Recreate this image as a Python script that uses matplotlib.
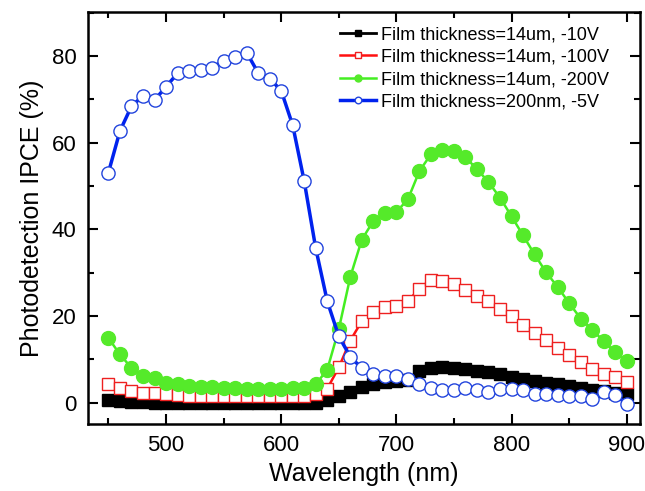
import matplotlib
matplotlib.use('Agg')
import matplotlib.pyplot as plt
from matplotlib.ticker import MultipleLocator

plt.rcParams['font.family'] = ['Liberation Sans', 'DejaVu Sans']

# wavelength (nm)
wavelength = [450, 460, 470, 480, 490, 500, 510, 520, 530, 540,
              550, 560, 570, 580, 590, 600, 610, 620, 630, 640,
              650, 660, 670, 680, 690, 700, 710, 720, 730, 740,
              750, 760, 770, 780, 790, 800, 810, 820, 830, 840,
              850, 860, 870, 880, 890, 900]

# IPCE (%)
ipce_14um_10V = [0.5, 0.3, 0.2, 0.1, 0.0, -0.1, -0.1, -0.2, -0.2, -0.2,
                 -0.2, -0.2, -0.2, -0.2, -0.2, -0.2, -0.2, -0.2, -0.1, 0.5,
                 1.5, 2.5, 3.5, 4.3, 4.7, 5.0, 5.2, 7.3, 7.9, 8.1,
                 8.0, 7.8, 7.4, 7.0, 6.5, 6.0, 5.5, 5.0, 4.6, 4.2,
                 3.8, 3.4, 3.0, 2.6, 2.3, 2.0]
ipce_14um_100V = [4.2, 3.4, 2.7, 2.3, 2.2, 1.9, 1.7, 1.6, 1.6, 1.5,
                  1.5, 1.5, 1.5, 1.5, 1.5, 1.5, 1.5, 1.6, 2.0, 3.2,
                  8.1, 14.3, 18.8, 21.0, 22.0, 22.4, 23.4, 26.3, 28.4, 28.0,
                  27.3, 25.9, 24.7, 23.4, 21.7, 19.9, 18.0, 16.1, 14.5, 12.6,
                  10.9, 9.3, 7.8, 6.5, 5.9, 4.7]
ipce_14um_200V = [14.9, 11.1, 8.0, 6.2, 5.7, 4.6, 4.2, 3.9, 3.7, 3.5,
                  3.4, 3.3, 3.2, 3.1, 3.1, 3.1, 3.3, 3.4, 4.2, 7.6,
                  16.9, 29.0, 37.6, 41.9, 43.8, 44.0, 46.9, 53.4, 57.3, 58.4,
                  58.1, 56.6, 53.9, 50.9, 47.3, 43.0, 38.6, 34.2, 30.1, 26.7,
                  23.0, 19.4, 16.8, 14.2, 11.6, 9.5]
ipce_200nm_5V = [53.1, 62.7, 68.4, 70.8, 69.8, 72.9, 76.0, 76.5, 76.8, 77.3,
                 78.9, 79.7, 80.8, 76.1, 74.8, 72.0, 64.0, 51.1, 35.6, 23.4,
                 15.3, 10.6, 7.9, 6.6, 6.2, 6.2, 5.4, 4.2, 3.3, 2.9,
                 2.9, 3.4, 2.8, 2.4, 3.1, 3.1, 2.8, 2.0, 2.0, 1.8,
                 1.6, 1.5, 0.9, 2.5, 1.8, -0.3]

labels = ['Film thickness=14um, -10V', 'Film thickness=14um, -100V',
          'Film thickness=14um, -200V', 'Film thickness=200nm, -5V']

fig = plt.figure(figsize=(6.45, 4.91), dpi=100)
ax = fig.add_axes([0.136, 0.136, 0.857, 0.84])

ax.plot(wavelength, ipce_14um_10V, '-s', color='black', lw=2,
        ms=8.5, mfc='black', mec='black', label=labels[0])
ax.plot(wavelength, ipce_14um_100V, '-s', color='#ff1010', lw=1.8,
        ms=8.5, mfc='white', mec='#ee2020', mew=1, label=labels[1])
ax.plot(wavelength, ipce_14um_200V, '-o', color='#44ee22', lw=1.8,
        ms=10, mfc='#55ea2a', mec='#55ea2a', label=labels[2])
ax.plot(wavelength, ipce_200nm_5V, '-o', color='#0022ee', lw=2.5,
        ms=9.5, mfc='white', mec='#2244dd', mew=1, label=labels[3])

ax.set_xlim(432, 912)
ax.set_ylim(-5, 90.2)
ax.xaxis.set_major_locator(MultipleLocator(100))
ax.xaxis.set_minor_locator(MultipleLocator(50))
ax.yaxis.set_major_locator(MultipleLocator(20))
ax.yaxis.set_minor_locator(MultipleLocator(10))
ax.tick_params(which='both', direction='in', top=True, right=True, width=1.5)
ax.tick_params(which='major', length=7, labelsize=16, pad=8)
ax.tick_params(which='minor', length=4)
for sp in ax.spines.values():
    sp.set_linewidth(1.8)

ax.set_xlabel('Wavelength (nm)', fontsize=18, labelpad=4)
ax.set_ylabel('Photodetection IPCE (%)', fontsize=18, labelpad=6)

ax.legend(loc='upper left', bbox_to_anchor=(0.43, 1.0), frameon=False,
          fontsize=13, markerscale=0.5, handlelength=2.0,
          handletextpad=0.3, labelspacing=0.3, borderaxespad=0.4)

fig.savefig('out.png', dpi=100)
